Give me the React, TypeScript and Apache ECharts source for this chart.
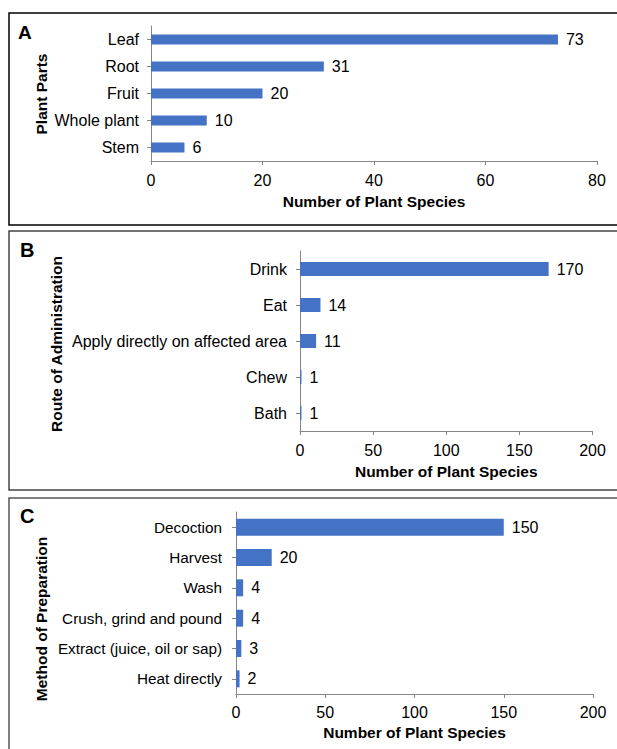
import React, { useEffect, useRef } from "react";
import * as echarts from "echarts";

const partsCategories = ["Leaf", "Root", "Fruit", "Whole plant", "Stem"];
const partsValues = [73, 31, 20, 10, 6];

const routeCategories = ["Drink", "Eat", "Apply directly on affected area", "Chew", "Bath"];
const routeValues = [170, 14, 11, 1, 1];

const methodCategories = [
  "Decoction",
  "Harvest",
  "Wash",
  "Crush, grind and pound",
  "Extract (juice, oil or sap)",
  "Heat directly",
];
const methodValues = [150, 20, 4, 4, 3, 2];

const xTitle = "Number of Plant Species";
const panelLetters = ["A", "B", "C"];
const yTitles = ["Plant Parts", "Route of Administration", "Method of Preparation"];

const FONT = "'Liberation Sans', Arial, sans-serif";
const AXIS_COLOR = "#868686";
const BAR_COLOR = "#4472C4";

export default function App() {
  const ref = useRef<HTMLDivElement>(null);

  useEffect(() => {
    if (!ref.current) return;
    const chart = echarts.init(ref.current, null, { renderer: "svg" });

    const grids = [
      { left: 151, right: 20, top: 26, height: 135 },
      { left: 300, right: 24.5, top: 251, height: 180 },
      { left: 236, right: 24, top: 512, height: 182 },
    ];
    const maxes = [80, 200, 200];
    const intervals = [20, 50, 50];
    const cats = [partsCategories, routeCategories, methodCategories];
    const vals = [partsValues, routeValues, methodValues];
    const barWidths = [10, 14, 17];
    const yLabelMargins = [12, 13, 14];
    const yLabelSizes = [16, 16, 15.3];
    const xLabelMargins = [11, 11, 10];
    const nameGaps = [32, 32, 30];

    const xAxes = grids.map((_, i) => ({
      type: "value",
      gridIndex: i,
      min: 0,
      max: maxes[i],
      interval: intervals[i],
      name: xTitle,
      nameLocation: "middle",
      nameGap: nameGaps[i],
      nameTextStyle: { fontFamily: FONT, fontSize: 15.5, fontWeight: "bold", color: "#000" },
      axisLine: { show: true, lineStyle: { color: AXIS_COLOR, width: 1 } },
      axisTick: { show: true, length: 4, lineStyle: { color: AXIS_COLOR } },
      axisLabel: { margin: xLabelMargins[i], fontFamily: FONT, fontSize: 16, color: "#000" },
      splitLine: { show: false },
    }));

    const yAxes = grids.map((_, i) => ({
      type: "category",
      gridIndex: i,
      data: cats[i],
      inverse: true,
      axisLine: { show: true, lineStyle: { color: AXIS_COLOR, width: 1 } },
      axisTick: { show: true, alignWithLabel: true, length: 4, lineStyle: { color: AXIS_COLOR } },
      axisLabel: { margin: yLabelMargins[i], fontFamily: FONT, fontSize: yLabelSizes[i], color: "#000" },
      splitLine: { show: false },
    }));

    const series = grids.map((_, i) => ({
      type: "bar",
      xAxisIndex: i,
      yAxisIndex: i,
      data: vals[i],
      barWidth: barWidths[i],
      itemStyle: { color: BAR_COLOR },
      label: {
        show: true,
        position: "right",
        distance: 8,
        fontFamily: FONT,
        fontSize: 16,
        color: "#000",
      },
    }));

    const borders = [
      { y: 13, h: 212, stroke: "#000" },
      { y: 231, h: 259, stroke: "#444" },
      { y: 498, h: 270, stroke: "#555" },
    ];
    const letterPos = [
      { x: 18, y: 23, size: 19 },
      { x: 20, y: 240, size: 20 },
      { x: 20, y: 506, size: 20 },
    ];
    const yTitlePos = [
      { x: 41, y: 94 },
      { x: 56, y: 344 },
      { x: 41.5, y: 619 },
    ];

    const graphic: any[] = [];
    borders.forEach((b) => {
      graphic.push({
        type: "rect",
        shape: { x: 9, y: b.y, width: 630, height: b.h },
        style: { fill: "none", stroke: b.stroke, lineWidth: 1.5 },
        silent: true,
      });
    });
    panelLetters.forEach((t, i) => {
      graphic.push({
        type: "text",
        x: letterPos[i].x,
        y: letterPos[i].y,
        style: {
          text: t,
          fontFamily: FONT,
          fontSize: letterPos[i].size,
          fontWeight: "bold",
          fill: "#000",
          textVerticalAlign: "top",
        },
      });
    });
    yTitles.forEach((t, i) => {
      graphic.push({
        type: "text",
        x: yTitlePos[i].x,
        y: yTitlePos[i].y,
        rotation: Math.PI / 2,
        style: {
          text: t,
          fontFamily: FONT,
          fontSize: 15.5,
          fontWeight: "bold",
          fill: "#000",
          align: "center",
          verticalAlign: "middle",
        },
      });
    });

    chart.setOption({
      animation: false,
      backgroundColor: "#fff",
      grid: grids,
      xAxis: xAxes,
      yAxis: yAxes,
      series,
      graphic,
    } as any);

    return () => chart.dispose();
  }, []);

  return (
    <div
      ref={ref}
      style={{ position: "absolute", left: 0, top: 0, width: 617, height: 749 }}
    />
  );
}
